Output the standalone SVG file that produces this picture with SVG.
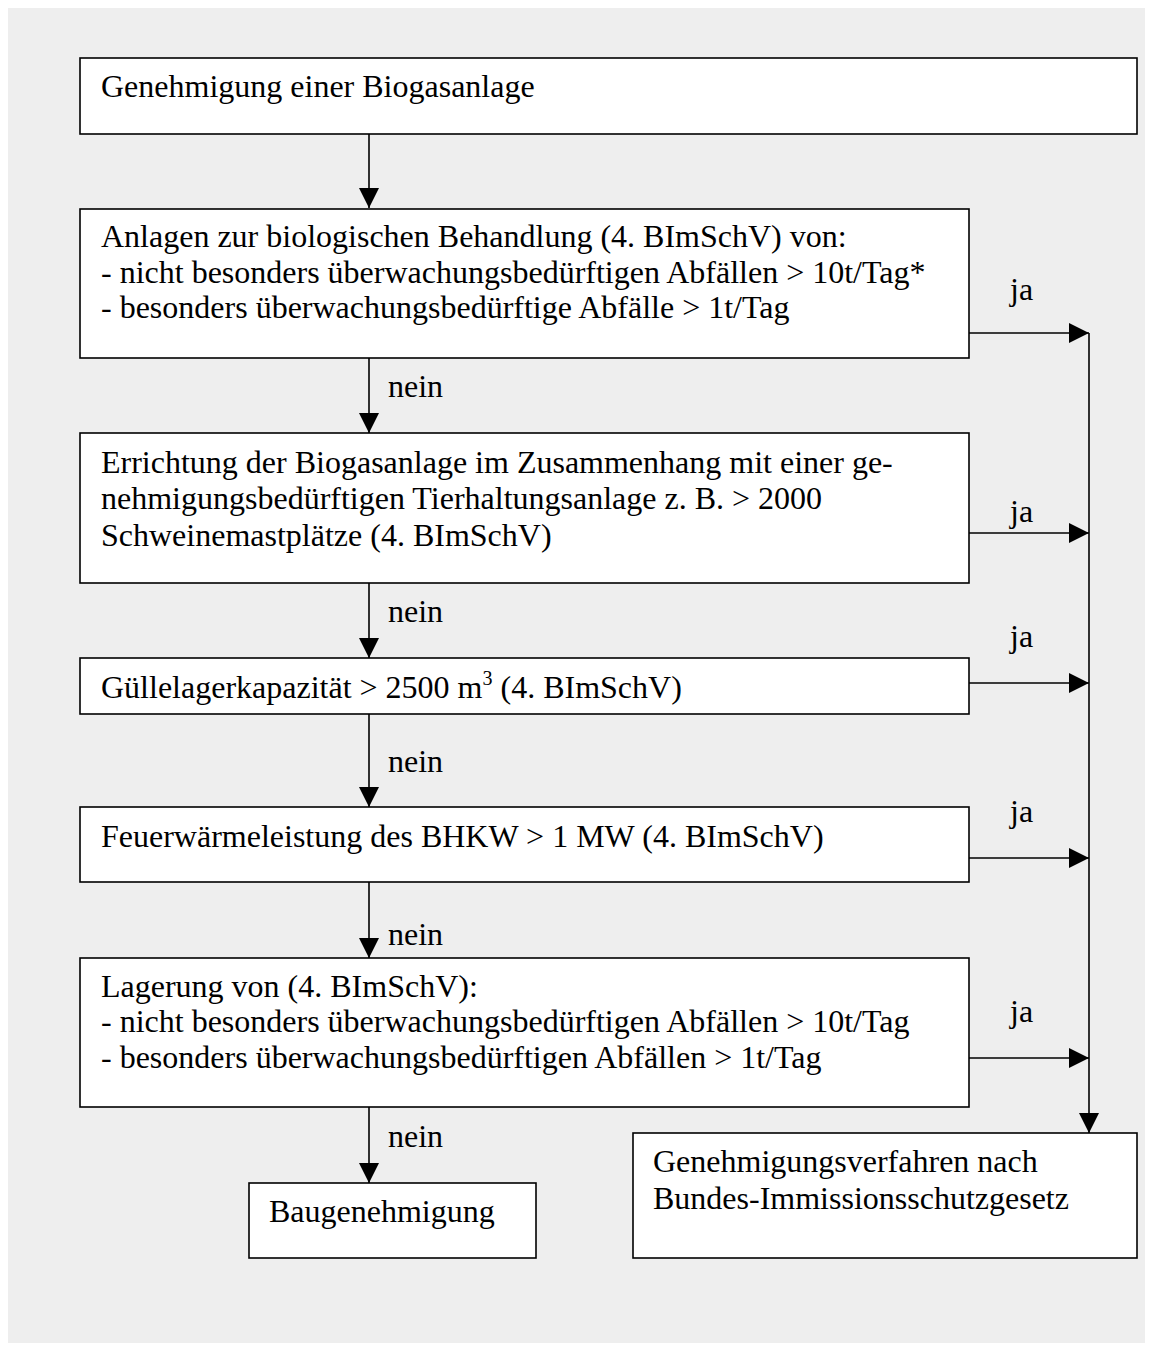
<svg xmlns="http://www.w3.org/2000/svg" width="1153" height="1351" viewBox="0 0 1153 1351">
<style>
.box{fill:#fff;stroke:#000;stroke-width:1.6}
text{font-family:"Liberation Serif","Times New Roman",serif;font-size:32px;fill:#000}
.c{stroke:#000;stroke-width:1.6;fill:none}
</style>
<defs>
<marker id="ah" viewBox="0 0 20 20" refX="20" refY="10" markerWidth="20" markerHeight="20" orient="auto" markerUnits="userSpaceOnUse"><path d="M0,0 L20,10 L0,20 z" fill="#000"/></marker>
</defs>
<rect x="0" y="0" width="1153" height="1351" fill="#fff"/>
<rect x="8" y="8" width="1137" height="1335" fill="#eeeeee"/>
<g id="n1"><rect class="box" x="80" y="58" width="1057" height="76"/><text x="101" y="97">Genehmigung einer Biogasanlage</text></g>
<g id="n2"><rect class="box" x="80" y="209" width="889" height="149"/>
<text x="101" y="247">Anlagen zur biologischen Behandlung (4. BImSchV) von:</text>
<text x="101" y="283">- nicht besonders überwachungsbedürftigen Abfällen &gt; 10t/Tag*</text>
<text x="101" y="318">- besonders überwachungsbedürftige Abfälle &gt; 1t/Tag</text></g>
<g id="n3"><rect class="box" x="80" y="433" width="889" height="150"/>
<text x="101" y="473">Errichtung der Biogasanlage im Zusammenhang mit einer ge-</text>
<text x="101" y="509">nehmigungsbedürftigen Tierhaltungsanlage z. B. &gt; 2000</text>
<text x="101" y="546">Schweinemastplätze (4. BImSchV)</text></g>
<g id="n4"><rect class="box" x="80" y="658" width="889" height="56"/>
<text x="101" y="698">Güllelagerkapazität &gt; 2500 m<tspan dy="-13" font-size="20">3</tspan><tspan dy="13"> (4. BImSchV)</tspan></text></g>
<g id="n5"><rect class="box" x="80" y="807" width="889" height="75"/>
<text x="101" y="847">Feuerwärmeleistung des BHKW &gt; 1 MW (4. BImSchV)</text></g>
<g id="n6"><rect class="box" x="80" y="958" width="889" height="149"/>
<text x="101" y="997">Lagerung von (4. BImSchV):</text>
<text x="101" y="1032">- nicht besonders überwachungsbedürftigen Abfällen &gt; 10t/Tag</text>
<text x="101" y="1068">- besonders überwachungsbedürftigen Abfällen &gt; 1t/Tag</text></g>
<g id="n7"><rect class="box" x="249" y="1183" width="287" height="75"/>
<text x="269" y="1222">Baugenehmigung</text></g>
<g id="n8"><rect class="box" x="633" y="1133" width="504" height="125"/>
<text x="653" y="1172">Genehmigungsverfahren nach</text>
<text x="653" y="1209">Bundes-Immissionsschutzgesetz</text></g>
<g id="connectors">
<line class="c" x1="369" y1="134" x2="369" y2="208" marker-end="url(#ah)"/>
<line class="c" x1="369" y1="358" x2="369" y2="433" marker-end="url(#ah)"/>
<line class="c" x1="369" y1="583" x2="369" y2="658" marker-end="url(#ah)"/>
<line class="c" x1="369" y1="714" x2="369" y2="807" marker-end="url(#ah)"/>
<line class="c" x1="369" y1="882" x2="369" y2="958" marker-end="url(#ah)"/>
<line class="c" x1="369" y1="1107" x2="369" y2="1183" marker-end="url(#ah)"/>
<line class="c" x1="969" y1="333" x2="1089" y2="333" marker-end="url(#ah)"/>
<line class="c" x1="969" y1="533" x2="1089" y2="533" marker-end="url(#ah)"/>
<line class="c" x1="969" y1="683" x2="1089" y2="683" marker-end="url(#ah)"/>
<line class="c" x1="969" y1="858" x2="1089" y2="858" marker-end="url(#ah)"/>
<line class="c" x1="969" y1="1058" x2="1089" y2="1058" marker-end="url(#ah)"/>
<line class="c" x1="1089" y1="333" x2="1089" y2="1133" marker-end="url(#ah)"/>
<text x="388" y="397">nein</text>
<text x="388" y="622">nein</text>
<text x="388" y="772">nein</text>
<text x="388" y="945">nein</text>
<text x="388" y="1147">nein</text>
<text x="1010" y="300">ja</text>
<text x="1010" y="522">ja</text>
<text x="1010" y="647">ja</text>
<text x="1010" y="822">ja</text>
<text x="1010" y="1022">ja</text>
</g>
</svg>
